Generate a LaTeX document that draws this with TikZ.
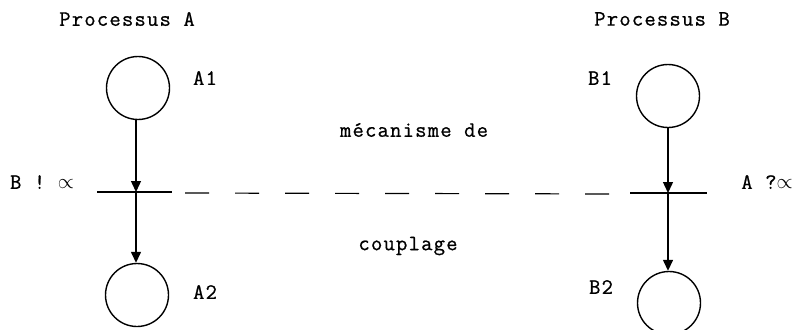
\documentclass[tikz,border=0pt]{standalone}
\usepackage{fontspec}
\setmonofont{Latin Modern Mono}[LetterSpace=5.5,FakeBold=0.8]
\usetikzlibrary{arrows.meta}
\tikzset{
  state/.style={draw, circle, line width=1.4pt, minimum size=63pt, inner sep=0pt},
  lbl/.style={font=\fontsize{22}{24}\selectfont\ttfamily, inner sep=0pt, anchor=center},
  flow/.style={line width=1.4pt, -{Triangle[length=11pt,width=10pt]}},
  bar/.style={line width=1.2pt},
  couple/.style={line width=1.2pt, dash pattern=on 24pt off 26pt}
}
\begin{document}
\begin{tikzpicture}[x=1pt,y=-1pt]
\useasboundingbox (0,0) rectangle (802,329);
% processes
\node[lbl] (pa) at (127,19) {Processus A};
\node[lbl] (pb) at (662,19) {Processus B};
% states
\node[state] (a1) at (138,88) {};
\node[state] (a2) at (137,295) {};
\node[state] (b1) at (668,96) {};
\node[state] (b2) at (669,303) {};
\node[lbl] (la1) at (205,78) {A1};
\node[lbl] (la2) at (205,292) {A2};
\node[lbl] (lb1) at (600,78) {B1};
\node[lbl] (lb2) at (601,287) {B2};
% coupling bar
\coordinate (ma) at (136,192);
\coordinate (mb) at (668,193);
\coordinate (al) at (97,192);
\coordinate (ar) at (172,192);
\coordinate (bl) at (630,193);
\coordinate (br) at (707,193);
\coordinate (dl) at (185,193);
\coordinate (dr) at (616,194);
\draw[bar] (al) -- (ar);
\draw[bar] (bl) -- (br);
\draw[couple] (dl) -- (dr);
% arrows
\draw[flow] (a1.south -| ma) -- (ma);
\draw[flow] (ma) -- (a2.north -| ma);
\draw[flow] (b1.south -| mb) -- (mb);
\draw[flow] (mb) -- (b2.north -| mb);
% labels
\node[lbl] (snd) at (42,182) {B ! $\propto$};
\node[lbl] (rcv) at (767,182) {A ?$\propto$};
\node[lbl] (mec) at (414,130) {mécanisme de};
\node[lbl] (cpl) at (408,246) {couplage};
\end{tikzpicture}
\end{document}
